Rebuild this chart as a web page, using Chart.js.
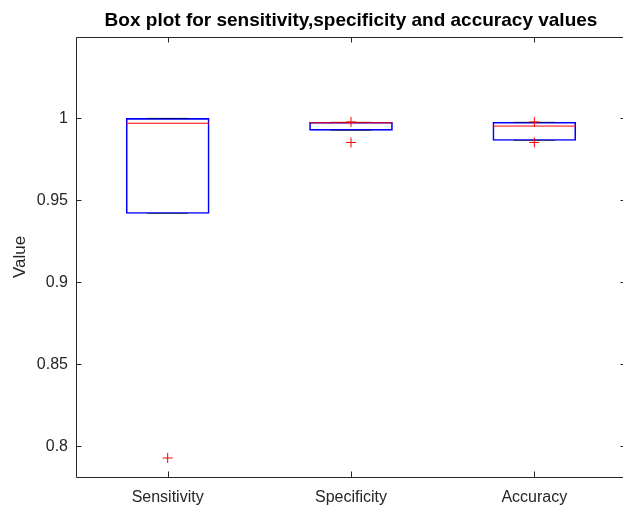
<!DOCTYPE html>
<html>
<head>
<meta charset="utf-8">
<script src="https://cdn.jsdelivr.net/npm/chart.js@4.4.1/dist/chart.umd.min.js"></script>
<style>
  html, body { margin: 0; padding: 0; background: #fff; overflow: hidden; }
  canvas { display: block; }
</style>
</head>
<body>
<canvas id="myChart" width="626" height="506"></canvas>
<script>
var kategorien = ["Sensitivity", "Specificity", "Accuracy"];
// Box: unteres und oberes Quartil
var q1 = [0.942, 0.9927, 0.9865];
var q3 = [1.0, 0.9976, 0.9976];
var mediane = [0.997, 0.9973, 0.9953];
// Whisker-Enden (fallen hier auf die Box-Kanten)
var whiskerUnten = [0.942, 0.9927, 0.9865];
var whiskerOben = [1.0, 0.9976, 0.9976];
// Ausreisser
var ausreisser = [
  { x: "Sensitivity", y: 0.7929 },
  { x: "Specificity", y: 0.9978 },
  { x: "Specificity", y: 0.9853 },
  { x: "Accuracy", y: 0.9978 },
  { x: "Accuracy", y: 0.9853 },
];
var yTicks = [0.8, 0.85, 0.9, 0.95, 1];
var yAchse_Name = "Value";
var titel = "Box plot for sensitivity,specificity and accuracy values";

var achsenFarbe = "#262626";

var boxDaten = kategorien.map(function (k, i) {
  return [q1[i], q3[i]];
});
var whiskerDaten = [];
kategorien.forEach(function (k, i) {
  whiskerDaten.push({ x: k, y: whiskerUnten[i] });
  whiskerDaten.push({ x: k, y: whiskerOben[i] });
});

// Rahmen und nach innen zeigende Ticks wie in MATLAB
var rahmenPlugin = {
  id: "rahmen",
  afterDatasetsDraw: function (chart) {
    var ctx = chart.ctx;
    var a = chart.chartArea;
    var xs = chart.scales.x;
    var ys = chart.scales.y;
    ctx.save();
    ctx.strokeStyle = achsenFarbe;
    ctx.lineWidth = 1;
    ctx.beginPath();
    ctx.rect(a.left + 0.5, a.top + 0.5, a.right - a.left - 1, a.bottom - a.top);
    yTicks.forEach(function (v) {
      var py = Math.round(ys.getPixelForValue(v)) + 0.5;
      ctx.moveTo(a.left, py);
      ctx.lineTo(a.left + 5.5, py);
      ctx.moveTo(a.right, py);
      ctx.lineTo(a.right - 5.5, py);
    });
    kategorien.forEach(function (k, i) {
      var px = Math.round(xs.getPixelForValue(i)) + 0.5;
      ctx.moveTo(px, a.bottom);
      ctx.lineTo(px, a.bottom - 5.5);
      ctx.moveTo(px, a.top);
      ctx.lineTo(px, a.top + 5.5);
    });
    ctx.stroke();
    ctx.restore();
  },
};

new Chart("myChart", {
  type: "bar",
  data: {
    labels: kategorien,
    datasets: [
      {
        type: "bar",
        data: boxDaten,
        backgroundColor: "rgba(0,0,0,0)",
        borderColor: "#0000ff",
        borderWidth: 1,
        borderSkipped: false,
        barThickness: 83,
        order: 3,
      },
      {
        type: "line",
        showLine: false,
        data: whiskerDaten,
        pointStyle: "line",
        pointRadius: 20.5,
        pointHoverRadius: 20.5,
        pointBorderColor: "rgba(0,0,0,0.55)",
        pointBorderWidth: 1,
        order: 2,
      },
      {
        type: "line",
        showLine: false,
        data: mediane,
        pointStyle: "line",
        pointRadius: 41.5,
        pointHoverRadius: 41.5,
        pointBorderColor: "#ff0000",
        pointBorderWidth: 1,
        order: 1,
      },
      {
        type: "line",
        showLine: false,
        data: ausreisser,
        pointStyle: "cross",
        pointRadius: 5,
        pointHoverRadius: 5,
        pointBorderColor: "#ff0000",
        pointBorderWidth: 1,
        order: 0,
      },
    ],
  },
  options: {
    responsive: false,
    animation: false,
    events: [],
    layout: { padding: 0, autoPadding: false },
    plugins: {
      legend: { display: false },
      tooltip: { enabled: false },
      title: {
        display: true,
        fullSize: false,
        text: titel,
        color: "#000",
        font: { family: "Liberation Sans, Arial, sans-serif", size: 19, weight: "bold" },
        padding: { top: 9, bottom: 5.2 },
      },
    },
    scales: {
      x: {
        offset: true,
        grid: { display: false, drawTicks: false },
        border: { display: false },
        ticks: {
          color: achsenFarbe,
          padding: 11,
          font: { family: "Liberation Sans, Arial, sans-serif", size: 16 },
          maxRotation: 0,
        },
        afterFit: function (s) {
          s.height = 29;
        },
      },
      y: {
        min: 0.7813,
        max: 1.0496,
        grid: { display: false, drawTicks: false },
        border: { display: false },
        afterBuildTicks: function (s) {
          s.ticks = yTicks.map(function (v) {
            return { value: v };
          });
        },
        ticks: {
          color: achsenFarbe,
          padding: 8,
          font: { family: "Liberation Sans, Arial, sans-serif", size: 16 },
          callback: function (v) {
            return String(Math.round(v * 100) / 100);
          },
        },
        title: {
          display: true,
          text: yAchse_Name,
          color: achsenFarbe,
          padding: { top: 10, bottom: 0 },
          font: { family: "Liberation Sans, Arial, sans-serif", size: 17 },
        },
        afterFit: function (s) {
          s.width = 76;
        },
      },
    },
  },
  plugins: [rahmenPlugin],
});
</script>
</body>
</html>
